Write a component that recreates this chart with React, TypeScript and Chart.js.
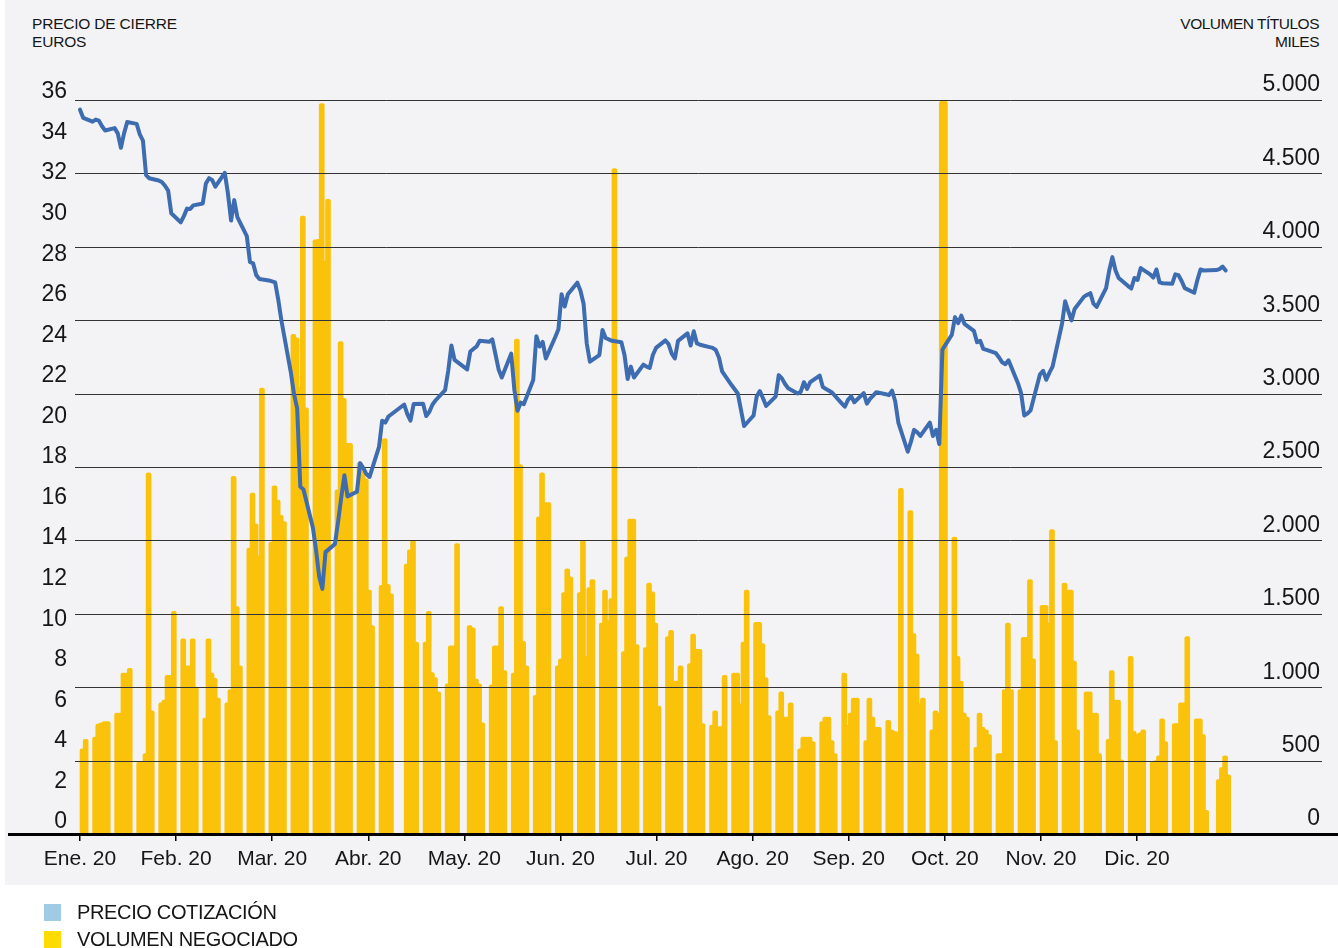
import React, { useEffect, useRef } from 'react';
import { Chart, registerables } from 'chart.js';

Chart.register(...registerables);

// ---------- DATA ----------
const MONTH_LABELS = ['Ene. 20', 'Feb. 20', 'Mar. 20', 'Abr. 20', 'May. 20', 'Jun. 20', 'Jul. 20', 'Ago. 20', 'Sep. 20', 'Oct. 20', 'Nov. 20', 'Dic. 20'];
// day-of-year offset of each month (2020, leap year)
const MONTH_OFFSET = [0, 31, 60, 91, 121, 152, 182, 213, 244, 274, 305, 335];

// trading sessions of each month (day of month)
const TRADING_DAYS: number[][] = [
  [2, 3, 6, 7, 8, 9, 10, 13, 14, 15, 16, 17, 20, 21, 22, 23, 24, 27, 28, 29, 30, 31],
  [3, 4, 5, 6, 7, 10, 11, 12, 13, 14, 17, 18, 19, 20, 21, 24, 25, 26, 27, 28],
  [2, 3, 4, 5, 6, 9, 10, 11, 12, 13, 16, 17, 18, 19, 20, 23, 24, 25, 26, 27, 30, 31],
  [1, 2, 3, 6, 7, 8, 9, 14, 15, 16, 17, 20, 21, 22, 23, 24, 27, 28, 29, 30],
  [4, 5, 6, 7, 8, 11, 12, 13, 14, 15, 18, 19, 20, 21, 22, 25, 26, 27, 28, 29],
  [1, 2, 3, 4, 5, 8, 9, 10, 11, 12, 15, 16, 17, 18, 19, 22, 23, 24, 25, 26, 29, 30],
  [1, 2, 3, 6, 7, 8, 9, 10, 13, 14, 15, 16, 17, 20, 21, 22, 23, 24, 27, 28, 29, 30, 31],
  [3, 4, 5, 6, 7, 10, 11, 12, 13, 14, 17, 18, 19, 20, 21, 24, 25, 26, 27, 28, 31],
  [1, 2, 3, 4, 7, 8, 9, 10, 11, 14, 15, 16, 17, 18, 21, 22, 23, 24, 25, 28, 29, 30],
  [1, 2, 5, 6, 7, 8, 9, 12, 13, 14, 15, 16, 19, 20, 21, 22, 23, 26, 27, 28, 29, 30],
  [2, 3, 4, 5, 6, 9, 10, 11, 12, 13, 16, 17, 18, 19, 20, 23, 24, 25, 26, 27, 30],
  [1, 2, 3, 4, 7, 8, 9, 10, 11, 14, 15, 16, 17, 18, 21, 22, 23, 24, 28, 29, 30, 31],
];

// closing price, euros
const PRICE_JAN = [35.03, 34.63, 34.44, 34.54, 34.49, 34.21, 34.0, 34.12, 33.86, 33.15, 33.86, 34.42, 34.33, 33.81, 33.5, 31.8, 31.65, 31.54, 31.46, 31.28, 31.04, 29.92];
const PRICE_FEB = [29.47, 29.78, 30.15, 30.13, 30.31, 30.4, 31.39, 31.65, 31.56, 31.23, 31.91, 30.9, 29.56, 30.57, 29.73, 28.79, 27.52, 27.45, 26.87, 26.68];
const PRICE_MAR = [26.61, 26.56, 26.51, 25.65, 24.62, 22.06, 21.0, 20.3, 16.43, 16.3, 14.41, 13.3, 12.0, 11.4, 13.21, 13.61, 14.71, 15.91, 17.0, 15.96, 16.19, 17.6];
const PRICE_APR = [17.36, 17.06, 16.92, 18.4, 19.69, 19.6, 19.9, 20.49, 20.02, 19.69, 20.51, 20.53, 19.92, 20.13, 20.49, 20.7, 21.2, 22.17, 23.4, 22.69];
const PRICE_MAY = [22.22, 23.1, 23.23, 23.35, 23.63, 23.58, 23.7, 22.97, 22.22, 21.82, 23.0, 21.22, 20.18, 20.58, 20.51, 21.7, 23.86, 23.35, 23.58, 22.76];
const PRICE_JUN = [23.82, 24.2, 25.93, 25.32, 25.93, 26.5, 26.1, 25.46, 23.5, 22.6, 22.93, 24.17, 23.77, 23.7, 23.63, 23.56, 22.93, 21.75, 22.36, 21.82, 22.46, 22.36];
const PRICE_JUL = [22.29, 22.93, 23.28, 23.65, 23.47, 23.0, 22.76, 23.63, 24.0, 23.4, 24.1, 23.5, 23.44, 23.32, 23.28, 23.18, 22.81, 22.13, 21.45, 21.24, 21.03, 20.23, 19.43];
const PRICE_AUG = [19.95, 20.9, 21.15, 20.8, 20.42, 20.88, 21.94, 21.78, 21.5, 21.29, 21.03, 21.12, 21.59, 21.26, 21.59, 21.92, 21.35, 21.26, 21.17, 21.07, 20.55];
const PRICE_SEP = [20.38, 20.72, 20.9, 20.6, 21.05, 20.53, 20.77, 20.93, 21.1, 21.0, 20.95, 21.17, 20.65, 19.6, 18.16, 18.66, 19.24, 19.12, 18.94, 19.6, 18.94, 19.24];
const PRICE_OCT = [18.54, 23.2, 23.93, 24.8, 24.5, 24.87, 24.47, 24.12, 23.56, 23.63, 23.23, 23.18, 23.02, 22.81, 22.57, 22.48, 22.67, 21.54, 21.05, 19.95, 20.04, 20.2];
const PRICE_NOV = [21.98, 22.15, 21.71, 22.06, 22.36, 24.47, 25.58, 25.1, 24.64, 25.2, 25.81, 25.9, 25.98, 25.46, 25.3, 26.23, 27.1, 27.76, 27.1, 26.73, 26.33];
const PRICE_DEC = [26.21, 26.73, 26.63, 27.22, 26.91, 26.75, 27.15, 26.51, 26.47, 26.44, 26.91, 26.87, 26.58, 26.23, 26.0, 26.63, 27.15, 27.1, 27.12, 27.17, 27.29, 27.1];

// traded volume, thousands of shares
const VOL_JAN = [580, 645, 661, 748, 758, 765, 765, 823, 823, 1097, 1097, 1129, 490, 490, 548, 2461, 839, 894, 913, 1081, 1081, 1516];
const VOL_FEB = [1329, 1145, 1145, 1329, 1000, 790, 1329, 1097, 1060, 926, 894, 984, 2436, 1549, 1145, 1948, 2323, 2113, 1894, 3038];
const VOL_MAR = [1989, 2371, 2274, 2171, 2129, 3403, 3380, 3042, 4210, 2903, 4048, 4050, 4975, 3903, 4323, 2345, 3355, 2968, 2661, 2661, 2532, 2468];
const VOL_APR = [2420, 1661, 1420, 1694, 2694, 1700, 1636, 1839, 1936, 2000, 1307, 1307, 1516, 1100, 1065, 968, 1023, 1281, 1281, 1978];
const VOL_MAY = [1420, 1404, 1055, 1023, 758, 1016, 1281, 1281, 1549, 1113, 1097, 3371, 2516, 1313, 1145, 945, 2161, 2461, 2258, 2258];
const VOL_JUN = [1145, 1194, 1645, 1807, 1752, 1645, 2000, 1210, 1678, 1733, 1436, 1661, 1452, 1603, 4532, 1242, 1887, 2145, 2145, 1290, 1270, 1710];
const VOL_JUL = [1650, 1436, 871, 1345, 1387, 1042, 1042, 1145, 1161, 1361, 1258, 1258, 752, 742, 839, 732, 732, 1081, 1097, 1097, 887, 1307, 1661];
const VOL_AUG = [1442, 1442, 1297, 1065, 806, 839, 968, 797, 797, 894, 581, 661, 661, 661, 629, 765, 797, 797, 636, 548, 1097];
const VOL_SEP = [742, 823, 926, 926, 636, 926, 797, 726, 726, 774, 710, 700, 694, 2355, 2203, 1365, 1226, 887, 926, 710, 839, 823];
const VOL_OCT = [4990, 4990, 2023, 1210, 1042, 823, 797, 590, 823, 726, 710, 677, 548, 548, 984, 1436, 984, 984, 1339, 1339, 1733, 1194];
const VOL_NOV = [1558, 1558, 1436, 2074, 636, 1710, 1661, 1661, 1178, 710, 968, 968, 823, 823, 548, 645, 1113, 913, 913, 506, 1210];
const VOL_DEC = [700, 677, 690, 710, 494, 500, 532, 784, 629, 752, 752, 894, 894, 1345, 784, 784, 677, 161, 371, 452, 532, 403];

const PRICES = [PRICE_JAN, PRICE_FEB, PRICE_MAR, PRICE_APR, PRICE_MAY, PRICE_JUN, PRICE_JUL, PRICE_AUG, PRICE_SEP, PRICE_OCT, PRICE_NOV, PRICE_DEC];
const VOLUMES = [VOL_JAN, VOL_FEB, VOL_MAR, VOL_APR, VOL_MAY, VOL_JUN, VOL_JUL, VOL_AUG, VOL_SEP, VOL_OCT, VOL_NOV, VOL_DEC];

const PRICE_TICKS = [0, 2, 4, 6, 8, 10, 12, 14, 16, 18, 20, 22, 24, 26, 28, 30, 32, 34, 36];
const VOLUME_TICKS = [0, 500, 1000, 1500, 2000, 2500, 3000, 3500, 4000, 4500, 5000];

// ---------- LAYOUT / STYLE ----------
const W = 1338;
const H = 948;
const MONTH_STEP = 30.53; // days between month labels
const FONT = "'Liberation Sans', Arial, Helvetica, sans-serif";
const TEXT = '#161616';
const BAR_COLOR = '#fbc20b';
const LINE_COLOR = '#3e6cb1';

function fmtThousands(v: number): string {
  if (v >= 1000) {
    const k = Math.floor(v / 1000);
    const r = v % 1000;
    return `${k}.${String(r).padStart(3, '0')}`;
  }
  return String(v);
}

const gridPlugin = {
  id: 'gridOverBars',
  beforeDatasetDraw(chart: any, args: any) {
    if (args.index !== 0) return; // draw just before the price line
    const ctx = chart.ctx;
    const y1 = chart.scales.y1;
    const { left, right } = chart.chartArea;
    ctx.save();
    ctx.strokeStyle = '#333333';
    ctx.lineWidth = 1;
    VOLUME_TICKS.forEach((v) => {
      const y = Math.round(y1.getPixelForValue(v)) + 0.5;
      ctx.beginPath();
      ctx.moveTo(left, y);
      ctx.lineTo(right, y);
      ctx.stroke();
    });
    ctx.restore();
  },
};

const axisLinePlugin = {
  id: 'axisLine',
  afterDraw(chart: any) {
    const ctx = chart.ctx;
    const y = chart.chartArea.bottom;
    ctx.save();
    ctx.fillStyle = '#000';
    ctx.fillRect(8, y - 1, W - 8, 3);
    ctx.restore();
  },
};

export default function App() {
  const canvasRef = useRef<HTMLCanvasElement | null>(null);

  useEffect(() => {
    if (!canvasRef.current) return;
    const linePts: { x: number; y: number }[] = [];
    const barPts: { x: number; y: number }[] = [];
    TRADING_DAYS.forEach((days, m) => {
      days.forEach((d, i) => {
        const x = MONTH_OFFSET[m] + d - 2; // 0 = 2 Jan
        linePts.push({ x, y: PRICES[m][i] });
        barPts.push({ x: x + 0.8, y: VOLUMES[m][i] });
      });
    });

    const chart = new Chart(canvasRef.current, {
      type: 'bar',
      data: {
        datasets: [
          {
            type: 'line',
            label: 'PRECIO COTIZACIÓN',
            data: linePts,
            yAxisID: 'y',
            xAxisID: 'x',
            borderColor: LINE_COLOR,
            backgroundColor: LINE_COLOR,
            borderWidth: 4,
            pointRadius: 0,
            tension: 0,
            borderJoinStyle: 'round',
            borderCapStyle: 'round',
            order: 0,
          } as any,
          {
            type: 'bar',
            label: 'VOLUMEN NEGOCIADO',
            data: barPts,
            yAxisID: 'y1',
            xAxisID: 'x',
            backgroundColor: BAR_COLOR,
            barThickness: 5,
            borderRadius: 2,
            order: 1,
          } as any,
        ],
      },
      options: {
        animation: false,
        responsive: false,
        maintainAspectRatio: false,
        layout: { padding: { top: 90, left: 0, right: 0, bottom: 74 } },
        plugins: {
          legend: { display: false },
          tooltip: { enabled: false },
        },
        scales: {
          x: {
            type: 'linear',
            min: -5 / 3.1475,
            max: 1242 / 3.1475,
            offset: false,
            afterBuildTicks: (s: any) => {
              s.ticks = MONTH_LABELS.map((_, k) => ({ value: k * MONTH_STEP }));
            },
            afterFit: (s: any) => {
              s.height = 40;
            },
            ticks: {
              autoSkip: false,
              maxRotation: 0,
              padding: 6,
              color: TEXT,
              font: { family: FONT, size: 21 },
              callback: (v: any) => MONTH_LABELS[Math.round(Number(v) / MONTH_STEP)],
            },
            grid: {
              display: true,
              drawOnChartArea: false,
              drawTicks: true,
              tickLength: 7,
              color: '#000',
              lineWidth: 1.5,
              offset: false,
            },
            border: { display: false },
          },
          y: {
            type: 'linear',
            position: 'left',
            min: -0.69,
            max: 36,
            afterBuildTicks: (s: any) => {
              s.ticks = PRICE_TICKS.map((v) => ({ value: v }));
            },
            afterFit: (s: any) => {
              s.width = 75;
            },
            ticks: {
              padding: 8,
              labelOffset: 2,
              color: TEXT,
              font: { family: FONT, size: 23 },
              callback: (v: any) => String(v),
            },
            grid: { display: false, drawTicks: false },
            border: { display: false },
          },
          y1: {
            type: 'linear',
            position: 'right',
            min: 0,
            max: 5068,
            afterBuildTicks: (s: any) => {
              s.ticks = VOLUME_TICKS.map((v) => ({ value: v }));
            },
            afterFit: (s: any) => {
              s.width = 16;
            },
            ticks: {
              mirror: true,
              padding: -2,
              labelOffset: -15,
              color: TEXT,
              font: { family: FONT, size: 23 },
              callback: (v: any) => fmtThousands(Number(v)),
            },
            grid: { display: false, drawTicks: false },
            border: { display: false },
          },
        },
      } as any,
      plugins: [gridPlugin, axisLinePlugin],
    });

    return () => chart.destroy();
  }, []);

  const textBase: React.CSSProperties = {
    position: 'absolute',
    fontFamily: FONT,
    color: TEXT,
    whiteSpace: 'nowrap',
  };

  return (
    <div style={{ position: 'absolute', left: 0, top: 0, width: W, height: H, background: '#ffffff', overflow: 'hidden' }}>
      <div style={{ position: 'absolute', left: 5, top: 0, width: W - 5, height: 885, background: '#f3f3f5' }} />
      <div style={{ ...textBase, left: 32, top: 15, fontSize: 15.5, lineHeight: '17.5px', letterSpacing: '-0.2px' }}>
        PRECIO DE CIERRE<br />EUROS
      </div>
      <div style={{ ...textBase, right: 19, top: 15, fontSize: 15.5, lineHeight: '17.5px', letterSpacing: '-0.5px', textAlign: 'right' }}>
        VOLUMEN TÍTULOS<br />MILES
      </div>
      <canvas ref={canvasRef} width={W} height={H} style={{ position: 'absolute', left: 0, top: 0, width: W, height: H }} />
      <div style={{ position: 'absolute', left: 44, top: 904, width: 17, height: 17, background: '#a0cbe4' }} />
      <div style={{ position: 'absolute', left: 44, top: 931, width: 17, height: 17, background: '#ffdc00' }} />
      <div style={{ ...textBase, left: 77, top: 899, fontSize: 20, lineHeight: '26px', letterSpacing: '-0.35px' }}>PRECIO COTIZACIÓN</div>
      <div style={{ ...textBase, left: 77, top: 926, fontSize: 20, lineHeight: '26px', letterSpacing: '-0.35px' }}>VOLUMEN NEGOCIADO</div>
    </div>
  );
}
